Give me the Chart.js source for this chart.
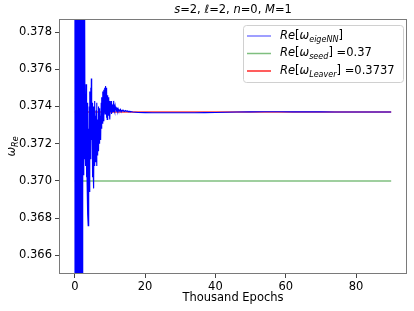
<!DOCTYPE html>
<html>
<head>
<meta charset="utf-8">
<script src="https://cdn.jsdelivr.net/npm/chart.js@4"></script>
<style>
html, body { margin: 0; padding: 0; background: #fff; }
</style>
</head>
<body>
<canvas id="chart" width="414" height="311"></canvas>
<script>
// axis ticks
const xTicks = [0, 20, 40, 60, 80];
const yTicks = [0.366, 0.368, 0.370, 0.372, 0.374, 0.376, 0.378];

// eigeNN real part, first 16 thousand epochs sampled every 0.1
const earlyStep = 0.1;
const nnEarly = [
    0.400, 0.330, 0.410, 0.340, 0.400, 0.332, 0.392, 0.348, 0.396, 0.344,
    0.390, 0.350, 0.386, 0.352, 0.388, 0.354, 0.384, 0.356, 0.385, 0.358,
    0.382, 0.360, 0.3800, 0.3690, 0.3810, 0.3703, 0.3800, 0.3712, 0.3795, 0.3720,
    0.3746, 0.3708, 0.3752, 0.3702, 0.3738, 0.3698, 0.3742, 0.3682, 0.3676, 0.3728,
    0.3704, 0.3740, 0.3694, 0.3748, 0.3712, 0.3750, 0.3716, 0.3755, 0.3722, 0.3742,
    0.3702, 0.3735, 0.3706, 0.3740, 0.3696, 0.3738, 0.3708, 0.3743, 0.3716, 0.3735,
    0.3710, 0.3738, 0.3708, 0.3742, 0.3714, 0.3733, 0.3718, 0.3740, 0.3716, 0.3736,
    0.3720, 0.3739, 0.3724, 0.3735, 0.3722, 0.3742, 0.3728, 0.3745, 0.3731, 0.3748,
    0.3734, 0.3746, 0.3732, 0.3749, 0.3737, 0.3750, 0.3736, 0.3751, 0.3739, 0.3750,
    0.3734, 0.3748, 0.3733, 0.3746, 0.3737, 0.3745, 0.3735, 0.3744, 0.3738, 0.3743,
    0.3733, 0.3742, 0.3737, 0.3743, 0.3736, 0.3742, 0.3737, 0.3741, 0.3738, 0.3740,
    0.3737, 0.3743, 0.3738, 0.3741, 0.3737, 0.3740, 0.3738, 0.3740, 0.37375, 0.37395,
    0.37378, 0.37392, 0.37376, 0.37388, 0.37378, 0.37386, 0.37376, 0.37384, 0.37378, 0.37382,
    0.37376, 0.37382, 0.37377, 0.37381, 0.37376, 0.37380, 0.37377, 0.37379, 0.37376, 0.37378,
    0.37376, 0.37378, 0.37375, 0.37377, 0.37376, 0.37377, 0.37375, 0.37376, 0.37375, 0.37376,
    0.37374, 0.37375, 0.37374, 0.37375, 0.37373, 0.37374, 0.37373, 0.37374, 0.37372, 0.37373
];
// later part, sparse
const nnTailEpochs = [16.5, 18, 20, 22, 25, 28, 31, 34, 37, 40, 43, 46, 50, 54, 58, 62, 66, 70, 74, 78, 82, 86, 90];
const nnTail = [0.37370, 0.37368, 0.37367, 0.37366, 0.37366, 0.37366, 0.37366, 0.37366, 0.37367, 0.37368,
    0.37369, 0.37370, 0.37371, 0.37372, 0.37372, 0.37371, 0.37371, 0.37371, 0.37370, 0.37370,
    0.37370, 0.37370, 0.37370];

const refEpochs = [0, 90];
const seedValues = [0.37, 0.37];
const leaverValues = [0.3737, 0.3737];

const FONT = "'DejaVu Sans'";
const FS = 11.5;

const nnPoints = [];
nnEarly.forEach((v, i) => nnPoints.push({x: +(i * earlyStep).toFixed(1), y: v}));
nnTailEpochs.forEach((e, i) => nnPoints.push({x: e, y: nnTail[i]}));
const seedPoints = refEpochs.map((e, i) => ({x: e, y: seedValues[i]}));
const leaverPoints = refEpochs.map((e, i) => ({x: e, y: leaverValues[i]}));

function fontFor(style, size) {
    if (style === 'i') return 'italic ' + size + 'px ' + FONT;
    if (style === 'si') return 'italic ' + (size * 0.7) + 'px ' + FONT;
    return size + 'px ' + FONT;
}
function runsWidth(ctx, runs, size) {
    let w = 0;
    runs.forEach(r => { ctx.font = fontFor(r[1], size); w += ctx.measureText(r[0]).width; });
    return w;
}
function drawRuns(ctx, runs, x, y, size) {
    ctx.textBaseline = 'middle';
    ctx.textAlign = 'left';
    runs.forEach(r => {
        ctx.font = fontFor(r[1], size);
        ctx.fillText(r[0], x, r[1] === 'si' ? y + size * 0.3 : y);
        x += ctx.measureText(r[0]).width;
    });
}

const titleRuns = [['s', 'i'], ['=2, ', 'n'], ['ℓ', 'i'], ['=2, ', 'n'], ['n', 'i'], ['=0, ', 'n'], ['M', 'i'], ['=1', 'n']];
const yLabelRuns = [['ω', 'i'], ['Re', 'si']];
const legendItems = [
    {color: 'rgba(0,0,255,0.5)', runs: [['Re', 'i'], ['[', 'n'], ['ω', 'i'], ['eigeNN', 'si'], [']', 'n']]},
    {color: 'rgba(0,128,0,0.5)', runs: [['Re', 'i'], ['[', 'n'], ['ω', 'i'], ['seed', 'si'], [']', 'n'], [' =0.37', 'n']]},
    {color: 'rgba(255,0,0,0.85)', runs: [['Re', 'i'], ['[', 'n'], ['ω', 'i'], ['Leaver', 'si'], [']', 'n'], [' =0.3737', 'n']]}
];

const decor = {
    id: 'decor',
    afterDraw(chart) {
        const ctx = chart.ctx;
        const a = chart.chartArea;
        ctx.save();
        // frame
        ctx.strokeStyle = '#7a7a7a';
        ctx.lineWidth = 1;
        ctx.strokeRect(a.left + 0.5, a.top + 0.5, a.right - a.left - 1, a.bottom - a.top - 1);
        ctx.fillStyle = '#000';
        // title
        const tw = runsWidth(ctx, titleRuns, FS);
        drawRuns(ctx, titleRuns, (a.left + a.right) / 2 - tw / 2, 10, FS);
        // y label
        ctx.save();
        ctx.translate(12, (a.top + a.bottom) / 2);
        ctx.rotate(-Math.PI / 2);
        const yw = runsWidth(ctx, yLabelRuns, FS);
        drawRuns(ctx, yLabelRuns, -yw / 2, 0, FS);
        ctx.restore();
        // legend
        const bx = 243, by = 25, bw = 160, bh = 57;
        ctx.fillStyle = 'rgba(255,255,255,0.8)';
        ctx.strokeStyle = '#d0d0d0';
        ctx.beginPath();
        ctx.roundRect(bx + 0.5, by + 0.5, bw, bh, 3);
        ctx.fill();
        ctx.stroke();
        legendItems.forEach((it, i) => {
            const ry = 36 + i * 17.5;
            ctx.strokeStyle = it.color;
            ctx.lineWidth = 1.5;
            ctx.beginPath();
            ctx.moveTo(247, ry);
            ctx.lineTo(271, ry);
            ctx.stroke();
            ctx.fillStyle = '#000';
            drawRuns(ctx, it.runs, 280, ry, FS);
        });
        ctx.restore();
    }
};

new Chart(document.getElementById('chart'), {
    type: 'line',
    data: {
        datasets: [
            {data: nnPoints, borderColor: '#0000ff', borderWidth: 1.1, pointRadius: 0, tension: 0},
            {data: seedPoints, borderColor: 'rgba(0,128,0,0.5)', borderWidth: 1.6, pointRadius: 0},
            {data: leaverPoints, borderColor: 'rgba(255,0,0,0.75)', borderWidth: 1.4, pointRadius: 0}
        ]
    },
    options: {
        responsive: false,
        devicePixelRatio: 1,
        animation: false,
        layout: {padding: {left: 0, right: 7, top: 19, bottom: 0}},
        plugins: {legend: {display: false}, tooltip: {enabled: false}, title: {display: false}},
        scales: {
            x: {
                type: 'linear',
                min: -4.5,
                max: 94.5,
                afterBuildTicks: s => { s.ticks = xTicks.map(v => ({value: v})); },
                afterFit: s => { s.height = 37; },
                grid: {drawOnChartArea: false, color: '#444', tickLength: 4},
                border: {display: false},
                ticks: {color: '#000', font: {family: FONT, size: FS}, padding: 2, maxRotation: 0},
                title: {display: true, text: 'Thousand Epochs', color: '#000', font: {family: FONT, size: FS}, padding: {top: 0, bottom: 6}}
            },
            y: {
                type: 'linear',
                min: 0.365,
                max: 0.3787,
                afterBuildTicks: s => { s.ticks = yTicks.map(v => ({value: v})); },
                afterFit: s => { s.width = 59; },
                grid: {drawOnChartArea: false, color: '#444', tickLength: 4},
                border: {display: false},
                ticks: {color: '#000', font: {family: FONT, size: FS}, padding: 3, callback: v => v.toFixed(3)}
            }
        }
    },
    plugins: [decor]
});
</script>
</body>
</html>
